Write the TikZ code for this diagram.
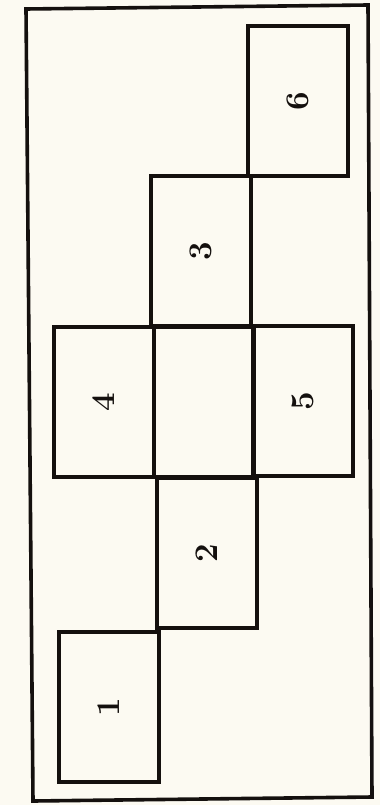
\documentclass[tikz,border=0pt]{standalone}
\usepackage{tikz}
\definecolor{paper}{RGB}{252,250,242}
\definecolor{ink}{RGB}{20,16,14}
\begin{document}
\begin{tikzpicture}[x=1pt,y=-1pt,
  face/.style={draw=ink, line width=3.6pt, minimum width=100pt, minimum height=150pt, inner sep=0pt, outer sep=0pt},
  digit/.style={rotate=90, inner sep=0pt, text=ink, font=\fontsize{33}{36}\selectfont\bfseries}]
\fill[paper] (0,0) rectangle (380,805);
\useasboundingbox (0,0) rectangle (380,805);
% outer frame
\coordinate (tl) at (26,9);
\coordinate (tr) at (368,5);
\coordinate (br) at (372,797);
\coordinate (bl) at (33,801);
\draw[ink, line width=3.6pt, line join=miter] (tl) -- (tr) -- (br) -- (bl) -- cycle;
% faces of the net
\node[face] (s6) at (298,101) {};
\node[face] (s3) at (201,251) {};
\node[face] (s4) at (104,402) {};
\node[face] (sc) at (204,402) {};
\node[face] (s5) at (303,401) {};
\node[face] (s2) at (207,553) {};
\node[face] (s1) at (109,707) {};
% labels
\node[digit] (l1) at (s1) {1};
\node[digit] (l2) at (s2) {2};
\node[digit] (l3) at (s3) {3};
\node[digit] (l4) at (s4) {4};
\node[digit] (l5) at (s5) {5};
\node[digit] (l6) at (s6) {6};
\end{tikzpicture}
\end{document}
